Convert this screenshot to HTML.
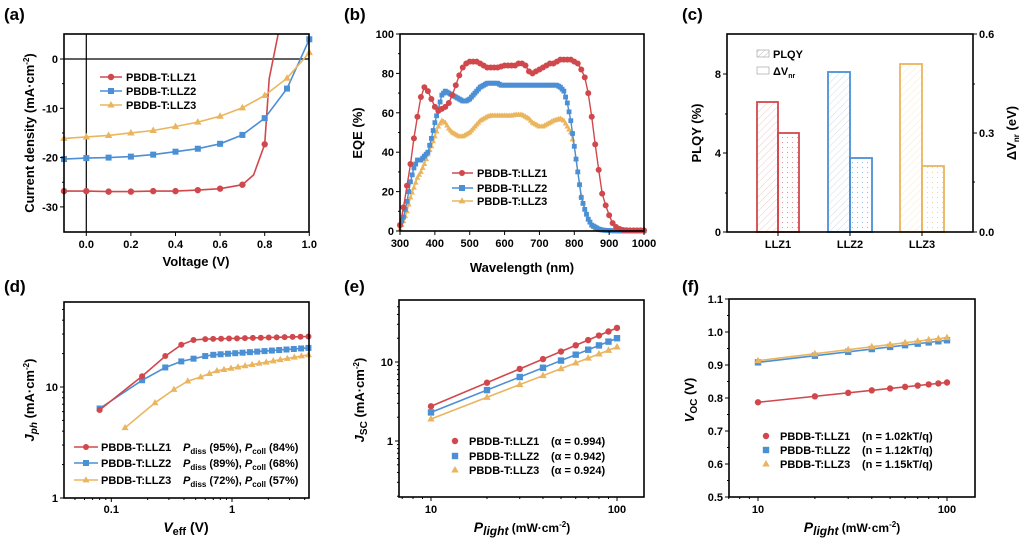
<!DOCTYPE html>
<html><head><meta charset="utf-8"><style>
html,body{margin:0;padding:0;background:#fff;}
svg{display:block;font-family:"Liberation Sans",Arial,sans-serif;font-weight:bold;}
</style></head><body>
<svg id="s" width="1024" height="547" viewBox="0 0 1024 547" xmlns="http://www.w3.org/2000/svg">
<defs>
<pattern id="hr" width="5" height="5" patternUnits="userSpaceOnUse" patternTransform="rotate(45)"><line x1="0" y1="0" x2="0" y2="5" stroke="#d1484c" stroke-width="0.6" opacity="0.5"/></pattern>
<pattern id="hb" width="5" height="5" patternUnits="userSpaceOnUse" patternTransform="rotate(45)"><line x1="0" y1="0" x2="0" y2="5" stroke="#4b8fd5" stroke-width="0.6" opacity="0.5"/></pattern>
<pattern id="hy" width="5" height="5" patternUnits="userSpaceOnUse" patternTransform="rotate(45)"><line x1="0" y1="0" x2="0" y2="5" stroke="#eab55e" stroke-width="0.6" opacity="0.5"/></pattern>
<pattern id="hg" width="4" height="4" patternUnits="userSpaceOnUse" patternTransform="rotate(45)"><line x1="0" y1="0" x2="0" y2="4" stroke="#999" stroke-width="0.6"/></pattern>
<pattern id="dr" width="5" height="5" patternUnits="userSpaceOnUse"><circle cx="2.5" cy="2.5" r="0.6" fill="#d1484c" opacity="0.6"/></pattern>
<pattern id="db" width="5" height="5" patternUnits="userSpaceOnUse"><circle cx="2.5" cy="2.5" r="0.6" fill="#4b8fd5" opacity="0.6"/></pattern>
<pattern id="dy" width="5" height="5" patternUnits="userSpaceOnUse"><circle cx="2.5" cy="2.5" r="0.6" fill="#eab55e" opacity="0.6"/></pattern>
</defs>
</svg>
<script>
var S=document.getElementById('s'),NS='http://www.w3.org/2000/svg';
var R='#d1484c',B='#4b8fd5',Y='#eab55e';
function el(t,a,txt){var e=document.createElementNS(NS,t);for(var k in a)e.setAttribute(k,a[k]);if(txt!==undefined)e.innerHTML=txt;S.appendChild(e);return e;}
function line(x1,y1,x2,y2,c,w){el('line',{x1:x1,y1:y1,x2:x2,y2:y2,stroke:c||'#000','stroke-width':w||1});}
function text(x,y,s,o){o=o||{};var a={x:x,y:y,'font-size':o.fs||11,'text-anchor':o.a||'middle',fill:'#000'};if(o.rot)a.transform='rotate(-90 '+x+' '+y+')';el('text',a,s);}
function frame(x1,y1,x2,y2){el('rect',{x:x1,y:y1,width:x2-x1,height:y2-y1,fill:'none',stroke:'#000','stroke-width':1.6});}
function marker(t,x,y,c,s){s=s||3.2;
 if(t=='c')el('circle',{cx:x,cy:y,r:s,fill:c});
 else if(t=='s')el('rect',{x:x-s,y:y-s,width:2*s,height:2*s,fill:c});
 else el('polygon',{points:(x)+','+(y-s-0.8)+' '+(x-s-0.5)+','+(y+s*0.8)+' '+(x+s+0.5)+','+(y+s*0.8),fill:c});}
function poly(pts,c,w){el('polyline',{points:pts.map(function(p){return p[0].toFixed(1)+','+p[1].toFixed(1)}).join(' '),fill:'none',stroke:c,'stroke-width':w||1.6});}
function lg(v){return Math.log(v)/Math.LN10;}

// ===== (a) =====
text(4,20,'(a)',{fs:17,a:'start'});
var ax=function(v){return 86.3+(v)*223;},ay=function(j){return 59-j*4.93;};
line(64,ay(0),309,ay(0),'#000',1.2);line(ax(0),34,ax(0),232,'#000',1.2);
var V=[-0.1,0,0.1,0.2,0.3,0.4,0.5,0.6,0.7,0.8,0.9,1.0];
var J1=[-26.8,-26.8,-26.9,-26.9,-26.8,-26.8,-26.6,-26.3,-25.5,-17.3];
var J2=[-20.3,-20.1,-20,-19.8,-19.4,-18.8,-18.2,-17.2,-15.4,-12,-6,4];
var J3=[-16.1,-15.8,-15.5,-15,-14.5,-13.7,-12.8,-11.6,-9.9,-7.4,-3.9,1.3];
function pa(V,J){var p=[];for(var i=0;i<J.length;i++)p.push([ax(V[i]),ay(J[i])]);return p;}
var p1=pa(V,J1);p1.splice(9,0,[ax(0.75),ay(-23.5)]);p1.push([ax(0.82),ay(-4)],[ax(0.86),ay(5)]);
poly(p1,R);poly(pa(V,J2),B);poly(pa(V,J3),Y);
for(var i=0;i<J1.length;i++)marker('c',ax(V[i]),ay(J1[i]),R);
for(i=0;i<J2.length;i++)marker('s',ax(V[i]),ay(J2[i]),B,3);
for(i=0;i<J3.length;i++)marker('t',ax(V[i]),ay(J3[i]),Y);
frame(64,34,309,232);
[-30,-20,-10,0].forEach(function(v){line(60,ay(v),64,ay(v));text(58,ay(v)+4,v,{a:'end'});});
[-25,-15,-5].forEach(function(v){line(62,ay(v),64,ay(v));});
[0,0.2,0.4,0.6,0.8,1.0].forEach(function(v){line(ax(v),232,ax(v),236);text(ax(v),248,v.toFixed(1));});
text(196,266,'Voltage (V)',{fs:13});
text(34,133,'Current density (mA·cm<tspan dy="-5" font-size="8">-2</tspan><tspan dy="5">)</tspan>',{fs:13,rot:1});
[[77,R,'c','PBDB-T:LLZ1'],[91,B,'s','PBDB-T:LLZ2'],[105,Y,'t','PBDB-T:LLZ3']].forEach(function(l){line(100,l[0],122,l[0],l[1],1.6);marker(l[2],111,l[0],l[1],l[2]=='s'?3:3.2);text(126,l[0]+4,l[3],{a:'start'});});

// ===== (b) =====
text(344,20,'(b)',{fs:17,a:'start'});
var bx=function(w){return 400+(w-300)*0.3486;},by=function(e){return 231-e*1.97;};
var E1=[3,12,23,34,47,58,68,73,71,67,63,61,62,63,65,69,74,79,83,85,86,86,86,85,84,83,83,83,83,83.5,84,84,84,84,85,85,84,81,80,81,82,83,84,85,85,86,87,87,87,87,86,85,82,78,70,58,44,31,19,13,8,4,2,1,0.5,0.4,0.3,0.3,0.3,0.3,0.3];
var E2=[3,7,15,25,32,36,36,38,40,47,55,62,69,71,70,69,68,67,66,66,67,69,71,73,74,75,75,75,75,74,74,74,74,74,74,74,74,74,74,74,74,74,74,74,74,74,73,71,65,56,43,30,17,11,6,3,2,1,0.5,0.3,0.2,0.1,0.1,0,0,0,0,0,0,0,0];
var E3=[1,5,10,17,22,27,30,34,39,43,48,53,56,55,52,50,49,48,48,49,50,52,54,56,57,58,58.5,58.5,58.5,58.5,58.5,58.5,58.5,59,59,59,58,57,55,54,53,53,54,55,56,56.5,57,56,53,50,43,30,18,11,6,3,1,0.5,0.3,0.2,0.1,0,0,0,0,0,0,0,0,0,0];
function eq(E,c,t,s){var p=[];for(var i=0;i<E.length;i++)p.push([bx(300+i*10),by(E[i])]);poly(p,c,1.4);for(i=0;i<E.length;i++){marker(t,p[i][0],p[i][1],c,s);if(t!='c'&&i<E.length-1)marker(t,(p[i][0]+p[i+1][0])/2,(p[i][1]+p[i+1][1])/2,c,s);}}
eq(E3,Y,'t',2.4);eq(E2,B,'s',2.4);eq(E1,R,'c',3);
frame(400,34,644,231);
for(var v=0;v<=100;v+=20){line(396,by(v),400,by(v));text(394,by(v)+4,v,{a:'end'});}
for(v=10;v<100;v+=20)line(398,by(v),400,by(v));
for(v=300;v<=1000;v+=100){line(bx(v),231,bx(v),235);text(bx(v),247,v);}
text(522,272,'Wavelength (nm)',{fs:13});
text(362,133,'EQE (%)',{fs:13,rot:1});
[[173,R,'c','PBDB-T:LLZ1'],[188,B,'s','PBDB-T:LLZ2'],[201,Y,'t','PBDB-T:LLZ3']].forEach(function(l){line(452,l[0],473,l[0],l[1],1.6);marker(l[2],462,l[0],l[1],3);text(477,l[0]+4,l[3],{a:'start'});});

// ===== (c) =====
text(682,20,'(c)',{fs:17,a:'start'});
function bar(x1,x2,top,c,f){el('rect',{x:x1,y:top,width:x2-x1,height:232-top,fill:'url(#'+f+')',stroke:c,'stroke-width':1.8});}
bar(757,778,102,R,'hr');bar(778,799,133,R,'dr');
bar(828,850,72,B,'hb');bar(850,872,158,B,'db');
bar(900,922,64,Y,'hy');bar(922,944,166,Y,'dy');
frame(727,34,973,232);
[[0,232],[4,153],[8,74]].forEach(function(t){line(723,t[1],727,t[1]);text(721,t[1]+4,t[0],{a:'end'});});
[193,114].forEach(function(y){line(725,y,727,y);});
[['0.0',232],['0.3',133],['0.6',34]].forEach(function(t){line(973,t[1],977,t[1]);text(979,t[1]+4,t[0],{a:'start'});});
[182,84].forEach(function(y){line(973,y,975,y);});
[['LLZ1',778],['LLZ2',850],['LLZ3',922]].forEach(function(t){line(t[1],232,t[1],236);text(t[1],248,t[0]);});
text(701,133,'PLQY (%)',{fs:13,rot:1});
text(1016,133,'ΔV<tspan dy="3" font-size="8">nr</tspan><tspan dy="-3"> (eV)</tspan>',{fs:13,rot:1});
el('rect',{x:757,y:50,width:12,height:7,fill:'url(#hg)',stroke:'#999','stroke-width':0.6});
el('rect',{x:757,y:67,width:12,height:7,fill:'none',stroke:'#999','stroke-width':0.6});
text(773,58,'PLQY',{a:'start'});
text(773,75,'ΔV<tspan dy="3" font-size="7">nr</tspan>',{a:'start'});

// ===== (d) =====
text(4,292,'(d)',{fs:17,a:'start'});
var dx=function(v){return 232+lg(v)*120.7;},dy=function(j){return 498-lg(j)*111;};
function range(a,b,n){var r=[];for(var i=0;i<n;i++)r.push(a*Math.pow(b/a,i/(n-1)));return r;}
function dser(pts,tailY0,tailY1,c,t){var p=pts.slice();var last=pts[pts.length-1][0];var xs=range(last,4.3,14).slice(1);xs.forEach(function(x){var f=(lg(x)-lg(last))/(lg(4.3)-lg(last));p.push([x,tailY0*Math.pow(tailY1/tailY0,f)]);});
 var q=p.map(function(a){return [dx(a[0]),dy(a[1])];});poly(q,c,1.6);q.forEach(function(a){marker(t,a[0],a[1],c,3);});}
var d1=[[0.08,6.2],[0.18,12.5],[0.28,19],[0.38,24],[0.48,26.5],[0.6,27]];
var d2=[[0.08,6.4],[0.18,11.5],[0.28,15],[0.38,17],[0.48,18],[0.6,19],[0.7,19.5]];
var d3=[[0.13,4.3],[0.23,7.2],[0.33,9.5],[0.43,11.3],[0.55,12.3],[0.65,13.2],[0.75,14]];
dser(d3,14,19.5,Y,'t');dser(d2,19.5,22.5,B,'s');dser(d1,27,28.5,R,'c');
frame(64,302,309,498);
[[1,'1'],[10,'10']].forEach(function(t){line(60,dy(t[0]),64,dy(t[0]));text(58,dy(t[0])+4,t[1],{a:'end'});});
for(var k=2;k<10;k++){line(62,dy(k),64,dy(k));if(dy(k*10)>303)line(62,dy(k*10),64,dy(k*10));}
[[0.1,'0.1'],[1,'1']].forEach(function(t){line(dx(t[0]),498,dx(t[0]),502);text(dx(t[0]),513,t[1]);});
for(k=5;k<10;k++)line(dx(k/100),498,dx(k/100),500);for(k=2;k<10;k++){line(dx(k/10),498,dx(k/10),500);if(dx(k)<308)line(dx(k),498,dx(k),500);}
text(186,532,'<tspan font-style="italic">V</tspan><tspan font-size="11" dy="3">eff</tspan><tspan dy="-3"> (V)</tspan>',{fs:14});
text(34,400,'<tspan font-style="italic">J<tspan font-size="10" dy="3">ph</tspan></tspan><tspan dy="-3"> (mA·cm</tspan><tspan dy="-5" font-size="8">-2</tspan><tspan dy="5">)</tspan>',{fs:13,rot:1});
[[447,R,'c','PBDB-T:LLZ1','95%','84%'],[463,B,'s','PBDB-T:LLZ2','89%','68%'],[480,Y,'t','PBDB-T:LLZ3','72%','57%']].forEach(function(l){line(74,l[0],98,l[0],l[1],1.6);marker(l[2],86,l[0],l[1],3);text(101,l[0]+4,l[3],{a:'start'});
 text(183,l[0]+4,'<tspan font-style="italic">P</tspan><tspan font-size="8" dy="3">diss</tspan><tspan dy="-3"> ('+l[4]+'), </tspan><tspan font-style="italic">P</tspan><tspan font-size="8" dy="3">coll</tspan><tspan dy="-3"> ('+l[5]+')</tspan>',{a:'start'});});

// ===== (e) =====
text(344,292,'(e)',{fs:17,a:'start'});
var ex=function(p){return 431+lg(p/10)*186;},ey=function(j){return 362-lg(j/10)*79;};
[[2.75,27,R,'c'],[2.3,20,B,'s'],[1.9,15.5,Y,'t']].forEach(function(s){var a=lg(s[1]/s[0]);line(ex(10),ey(s[0]),ex(100),ey(s[1]),s[2],1.6);for(var p=10;p<=100;p+=10)marker(s[3],ex(p),ey(s[0]*Math.pow(p/10,a)),s[2],3.2);});
frame(399,300,644,497);
[[1,'1'],[10,'10']].forEach(function(t){line(395,ey(t[0]),399,ey(t[0]));text(393,ey(t[0])+4,t[1],{a:'end'});});
for(k=2;k<10;k++){line(397,ey(k/10),399,ey(k/10));line(397,ey(k),399,ey(k));if(ey(k*10)>301)line(397,ey(k*10),399,ey(k*10));}
[[10,'10'],[100,'100']].forEach(function(t){line(ex(t[0]),497,ex(t[0]),501);text(ex(t[0]),513,t[1]);});
for(k=7;k<10;k++)line(ex(k),497,ex(k),499);for(k=2;k<10;k++)line(ex(k*10),497,ex(k*10),499);
text(522,532,'<tspan font-style="italic" font-size="14">P</tspan><tspan font-style="italic" font-size="12" dy="3">light</tspan><tspan dy="-3" font-size="12"> (mW·cm</tspan><tspan dy="-5" font-size="8">-2</tspan><tspan dy="5" font-size="12">)</tspan>',{fs:13});
text(364,400,'<tspan font-style="italic">J</tspan><tspan font-size="10" dy="3">SC</tspan><tspan dy="-3"> (mA·cm</tspan><tspan dy="-5" font-size="8">-2</tspan><tspan dy="5">)</tspan>',{fs:13,rot:1});
[[441,R,'c','PBDB-T:LLZ1','0.994'],[456,B,'s','PBDB-T:LLZ2','0.942'],[470,Y,'t','PBDB-T:LLZ3','0.924']].forEach(function(l){marker(l[2],455,l[0],l[1],3.2);text(469,l[0]+4,l[3],{a:'start'});text(551,l[0]+4,'(α = '+l[4]+')',{a:'start'});});

// ===== (f) =====
text(682,292,'(f)',{fs:17,a:'start'});
var fx=function(p){return 758+lg(p/10)*189;},fy=function(v){return 497-(v-0.5)*330;};
[[0.787,0.847,R,'c'],[0.908,0.975,B,'s'],[0.913,0.983,Y,'t']].forEach(function(s){line(fx(10),fy(s[0]),fx(100),fy(s[1]),s[2],1.6);for(var p=10;p<=100;p+=10)marker(s[3],fx(p),fy(s[0]+(s[1]-s[0])*lg(p/10)),s[2],3.2);});
frame(729,299,975,497);
for(v=5;v<=11;v++){var y=fy(v/10);line(725,y,729,y);text(723,y+4,(v/10).toFixed(1),{a:'end'});if(v<11)line(727,fy(v/10+0.05),729,fy(v/10+0.05));}
[[10,'10'],[100,'100']].forEach(function(t){line(fx(t[0]),497,fx(t[0]),501);text(fx(t[0]),513,t[1]);});
for(k=7;k<10;k++)line(fx(k),497,fx(k),499);for(k=2;k<10;k++)line(fx(k*10),497,fx(k*10),499);
text(852,532,'<tspan font-style="italic" font-size="14">P</tspan><tspan font-style="italic" font-size="12" dy="3">light</tspan><tspan dy="-3" font-size="12">  (mW·cm</tspan><tspan dy="-5" font-size="8">-2</tspan><tspan dy="5" font-size="12">)</tspan>',{fs:13});
text(694,400,'<tspan font-style="italic">V</tspan><tspan font-size="10" dy="3">OC</tspan><tspan dy="-3"> (V)</tspan>',{fs:13,rot:1});
[[436,R,'c','PBDB-T:LLZ1','1.02kT/q'],[450,B,'s','PBDB-T:LLZ2','1.12kT/q'],[464,Y,'t','PBDB-T:LLZ3','1.15kT/q']].forEach(function(l){marker(l[2],766,l[0],l[1],3.2);text(780,l[0]+4,l[3],{a:'start'});text(862,l[0]+4,'(n = '+l[4]+')',{a:'start'});});
</script>
</body></html>
